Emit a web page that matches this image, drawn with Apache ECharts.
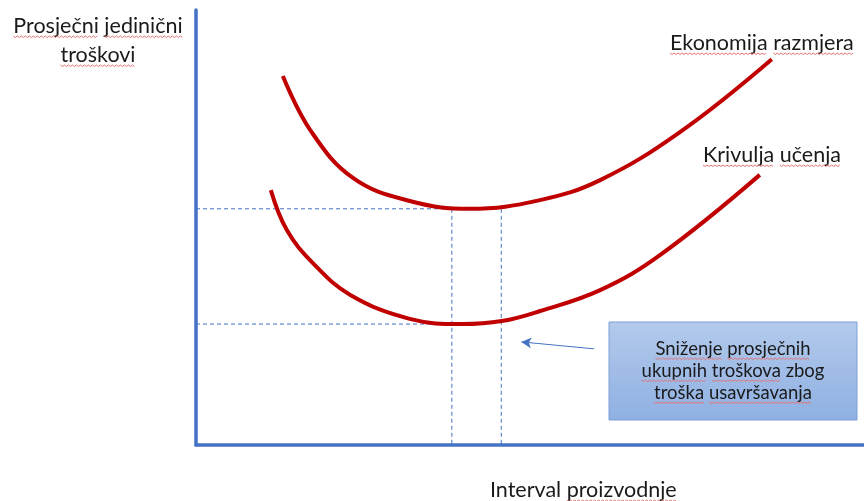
<!DOCTYPE html>
<html>
<head>
<meta charset="utf-8">
<script src="https://cdn.jsdelivr.net/npm/echarts@6/dist/echarts.min.js"></script>
<style>
html,body{margin:0;padding:0;background:#fff;}
#c{width:864px;height:501px;}
</style>
</head>
<body>
<div id="c"></div>
<script>
// Economies of scale curve (output units 0-100, cost units 0-100)
const scaleX = [13.0, 17.1, 23.5, 32.0, 41.0, 51.5, 60.5, 72.5, 86.2];
const scaleY = [84.8, 72.4, 61.4, 56.1, 54.3, 56.3, 60.9, 72.0, 88.7];
// Learning curve
const learnX = [11.2, 13.6, 17.5, 23.1, 32.0, 39.8, 45.8, 51.5, 60.5, 69.5, 84.4];
const learnY = [58.6, 49.4, 41.8, 34.5, 29.0, 27.8, 28.5, 30.8, 35.6, 43.7, 62.1];
// Reference (dashed) levels
const minScaleCost = 54.3;
const minLearnCost = 27.8;
const minLearnOutput = 38.3;
const minScaleOutput = 45.7;
// Annotation arrow (from box to dashed line)
const arrowFrom = [59.6, 22.1];
const arrowTo = [48.7, 23.7];

const yAxisTitle = ['Prosječni jedinični', 'troškovi'];
const xAxisTitle = 'Interval proizvodnje';
const curveNames = ['Ekonomija razmjera', 'Krivulja učenja'];
const noteLines = ['Sniženje prosječnih', 'ukupnih troškova zbog', 'troška usavršavanja'];

const zip = (a, b) => a.map((v, i) => [v, b[i]]);
const AXIS = '#4472C4';
const RED = '#C00000';
const FONT = 'Lato, "Open Sans", sans-serif';
const TXT = '#1a1a1a';
const SQUIG = '#E57373';

const dashStyle = { color: AXIS, width: 1, type: [4, 3] };

// text helpers (with spell-check style wavy underline, as in the reference picture)
const mctx = document.createElement('canvas').getContext('2d');
function squiggle(x0, x1, y) {
  const pts = [];
  let up = true;
  for (let x = x0; x <= x1; x += 2) { pts.push([x, up ? y : y + 1.5]); up = !up; }
  return { type: 'polyline', shape: { points: pts }, style: { stroke: SQUIG, lineWidth: 1, fill: null }, z: 7, silent: true };
}
function textBlock(text, x, baseline, size, align, underline) {
  const font = size + 'px ' + FONT;
  mctx.font = font;
  const total = mctx.measureText(text).width;
  const left = align === 'center' ? x - total / 2 : x;
  const els = [{ type: 'text', x: x, y: baseline - size * 0.33, z: 7,
    style: { text: text, font: font, fill: TXT, align: align, verticalAlign: 'middle' } }];
  const words = text.split(' ');
  let cursor = 0;
  words.forEach((w, i) => {
    const start = mctx.measureText(text.slice(0, cursor)).width;
    const end = mctx.measureText(text.slice(0, cursor + w.length)).width;
    if (underline[i]) els.push(squiggle(left + start, left + end, baseline + 3));
    cursor += w.length + 1;
  });
  return els;
}

const graphics = [].concat(
  textBlock(yAxisTitle[0], 98, 33, 21.5, 'center', [1, 1]),
  textBlock(yAxisTitle[1], 98, 62, 21.5, 'center', [1]),
  textBlock(curveNames[0], 670, 50, 21.5, 'left', [1, 1]),
  textBlock(curveNames[1], 703, 162, 21.5, 'left', [1, 1]),
  textBlock(xAxisTitle, 490, 497, 21.5, 'left', [0, 1]),
  [{
    type: 'rect', shape: { x: 609, y: 322, width: 248, height: 98 },
    style: {
      fill: new echarts.graphic.LinearGradient(0, 0, 0, 1, [
        { offset: 0, color: '#B3CAEC' }, { offset: 1, color: '#8FB0E2' }
      ]),
      stroke: '#7C9FD6', lineWidth: 1
    }, z: 5
  }],
  textBlock(noteLines[0], 733, 355, 18.5, 'center', [1, 1]),
  textBlock(noteLines[1], 733, 377, 18.5, 'center', [1, 1, 0]),
  textBlock(noteLines[2], 733, 399, 18.5, 'center', [1, 1])
);

const chart = echarts.init(document.getElementById('c'), null, { renderer: 'canvas' });
chart.setOption({
  animation: false,
  grid: { left: 196, right: 0, top: 10, bottom: 56 },
  xAxis: {
    type: 'value', min: 0, max: 100,
    axisLine: { show: true, lineStyle: { color: AXIS, width: 3.5 } },
    axisTick: { show: false }, axisLabel: { show: false }, splitLine: { show: false }
  },
  yAxis: {
    type: 'value', min: 0, max: 100,
    axisLine: { show: true, lineStyle: { color: AXIS, width: 3.5 } },
    axisTick: { show: false }, axisLabel: { show: false }, splitLine: { show: false }
  },
  series: [
    { type: 'line', name: 'hdash1', data: [[0, minScaleCost], [minLearnOutput, minScaleCost]], symbol: 'none', lineStyle: dashStyle, z: 1 },
    { type: 'line', name: 'hdash2', data: [[0, minLearnCost], [minLearnOutput, minLearnCost]], symbol: 'none', lineStyle: dashStyle, z: 1 },
    { type: 'line', name: 'vdash1', data: [[minLearnOutput, minScaleCost], [minLearnOutput, 0]], symbol: 'none', lineStyle: dashStyle, z: 1 },
    { type: 'line', name: 'vdash2', data: [[minScaleOutput, minScaleCost], [minScaleOutput, 0]], symbol: 'none', lineStyle: dashStyle, z: 1 },
    { type: 'line', name: curveNames[0], data: zip(scaleX, scaleY), smooth: 0.4, symbol: 'none', lineStyle: { color: RED, width: 4 }, z: 3 },
    { type: 'line', name: curveNames[1], data: zip(learnX, learnY), smooth: 0.4, symbol: 'none', lineStyle: { color: RED, width: 4 }, z: 3,
      markLine: {
        silent: true, symbol: ['none', 'arrow'], symbolSize: [8, 10],
        lineStyle: { color: AXIS, width: 1, type: 'solid' }, label: { show: false },
        data: [[{ coord: arrowFrom }, { coord: arrowTo }]]
      }
    }
  ],
  graphic: graphics
});
</script>
</body>
</html>
